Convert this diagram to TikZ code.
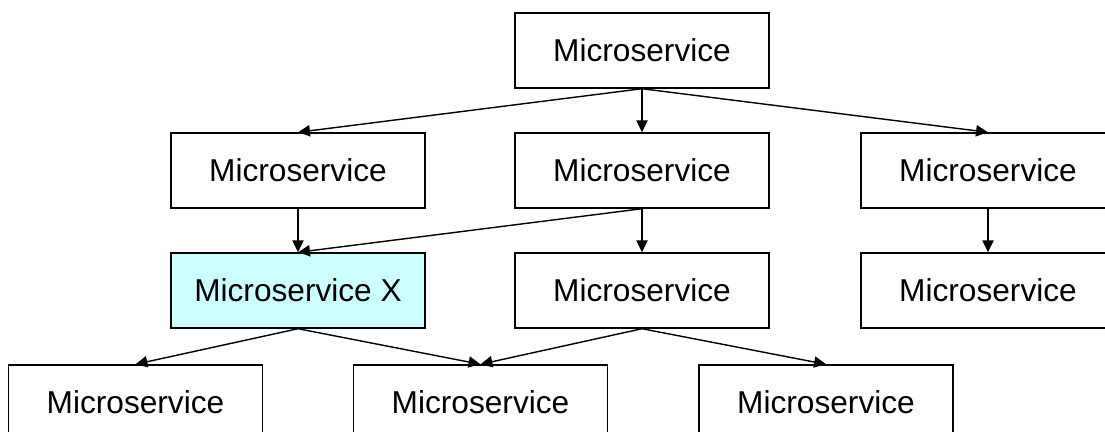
\documentclass[tikz,border=0pt]{standalone}
\usepackage{fontspec}
\setmainfont{Liberation Sans}
\usetikzlibrary{arrows.meta}

\definecolor{paleCyan}{RGB}{204,255,255}

\begin{document}
\begin{tikzpicture}[x=0.025cm,y=-0.025cm,
	svc/.style={draw,line width=1pt,minimum width=6.35cm,minimum height=1.875cm,inner sep=0pt,font=\fontsize{22.5}{27}\selectfont},
	call/.style={line width=1pt,-{Triangle[length=8.5pt,width=8pt]}}]
	\useasboundingbox (0,0) rectangle (1105,432);
	\clip (0,0) rectangle (1105,432);

	%Top level
	\node [svc] (top) at (642,50.5) {Microservice};

	%Second row
	\node [svc] (rowTwoL) at (298,170.5) {Microservice};
	\node [svc] (rowTwoM) at (642,170.5) {Microservice};
	\node [svc] (rowTwoR) at (988,170.5) {Microservice};

	%Third row, with service X
	\node [svc,fill=paleCyan] (svcX) at (298,290.5) {Microservice X};
	\node [svc] (rowThreeM) at (642,290.5) {Microservice};
	\node [svc] (rowThreeR) at (988,290.5) {Microservice};

	%Bottom row
	\node [svc] (rowFourL) at (135.5,402.5) {Microservice};
	\node [svc] (rowFourM) at (480.5,402.5) {Microservice};
	\node [svc] (rowFourR) at (826,402.5) {Microservice};

	%Calls
	\draw [call] (top.south) to (rowTwoL.north);
	\draw [call] (top.south) to (rowTwoM.north);
	\draw [call] (top.south) to (rowTwoR.north);
	\draw [call] (rowTwoL.south) to (svcX.north);
	\draw [call] (rowTwoM.south) to (svcX.north);
	\draw [call] (rowTwoM.south) to (rowThreeM.north);
	\draw [call] (rowTwoR.south) to (rowThreeR.north);
	\draw [call] (svcX.south) to (rowFourL.north);
	\draw [call] (svcX.south) to (rowFourM.north);
	\draw [call] (rowThreeM.south) to (rowFourM.north);
	\draw [call] (rowThreeM.south) to (rowFourR.north);
\end{tikzpicture}
\end{document}
